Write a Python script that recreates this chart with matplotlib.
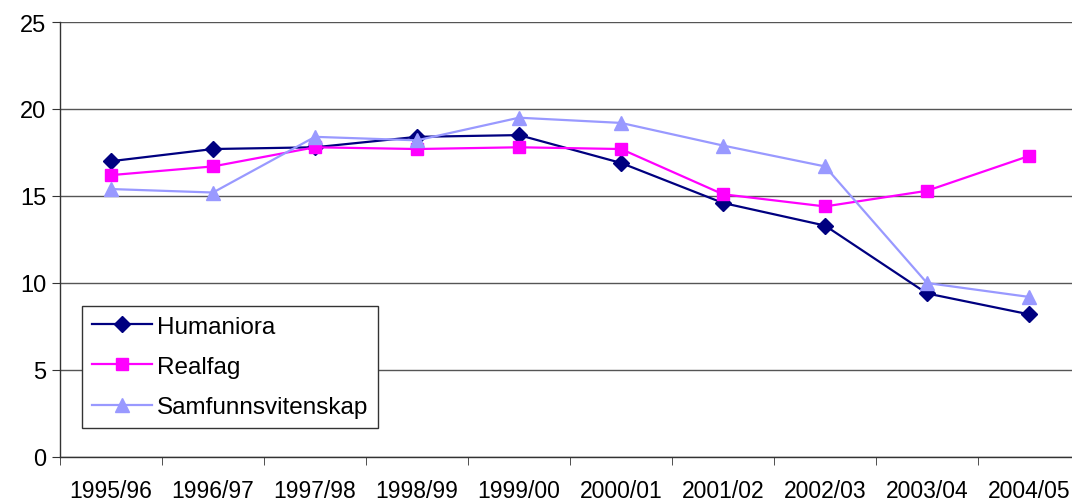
import matplotlib

matplotlib.use("Agg")
import matplotlib.pyplot as plt
import numpy as np

YEARS = ["1995/96", "1996/97", "1997/98", "1998/99", "1999/00",
         "2000/01", "2001/02", "2002/03", "2003/04", "2004/05"]
HUMANIORA = [17.0, 17.7, 17.8, 18.4, 18.5, 16.9, 14.6, 13.3, 9.4, 8.2]
REALFAG = [16.2, 16.7, 17.8, 17.7, 17.8, 17.7, 15.1, 14.4, 15.3, 17.3]
SAMFUNN = [15.4, 15.2, 18.4, 18.2, 19.5, 19.2, 17.9, 16.7, 10.0, 9.2]

plt.rcParams["font.family"] = ["Liberation Sans", "DejaVu Sans"]

W, H = 1072, 502
fig = plt.figure(figsize=(W / 100, H / 100), dpi=100)
ax = fig.add_axes([60 / W, 44 / H, 1020 / W, 435 / H])

x = np.arange(len(YEARS))
ax.plot(x, HUMANIORA, color="#000080", lw=1.6, marker="D", ms=8, label="Humaniora")
ax.plot(x, REALFAG, color="#FF00FF", lw=1.6, marker="s", ms=8.5, label="Realfag")
ax.plot(x, SAMFUNN, color="#9999FF", lw=1.6, marker="^", ms=10, label="Samfunnsvitenskap")

ax.set_xlim(-0.5, len(YEARS) - 0.5)
ax.set_ylim(0, 25)
ax.set_yticks([0, 5, 10, 15, 20, 25])
ax.yaxis.grid(True, color="#555555", lw=1.0)
ax.set_axisbelow(True)

ax.set_xticks(x, YEARS)
ax.set_xticks(np.arange(-0.5, len(YEARS)), minor=True)
ax.tick_params(axis="x", which="major", length=0, pad=16, labelsize=16.5)
ax.tick_params(axis="x", which="minor", length=6, color="#333333")
ax.tick_params(axis="y", length=6, color="#333333", pad=4, labelsize=17)

for side in ("top", "right"):
    ax.spines[side].set_visible(False)
for side in ("left", "bottom"):
    ax.spines[side].set_color("#333333")
    ax.spines[side].set_linewidth(1.0)

leg = fig.legend(loc="upper left", bbox_to_anchor=(82 / W, 1 - 307 / H),
                 borderaxespad=0, fancybox=False, framealpha=1,
                 edgecolor="#333333", fontsize=17.5, handlelength=2.5,
                 handletextpad=0.2, labelspacing=0.75, borderpad=0.4)
leg.get_frame().set_linewidth(1.0)

fig.savefig("out.png", dpi=100)
